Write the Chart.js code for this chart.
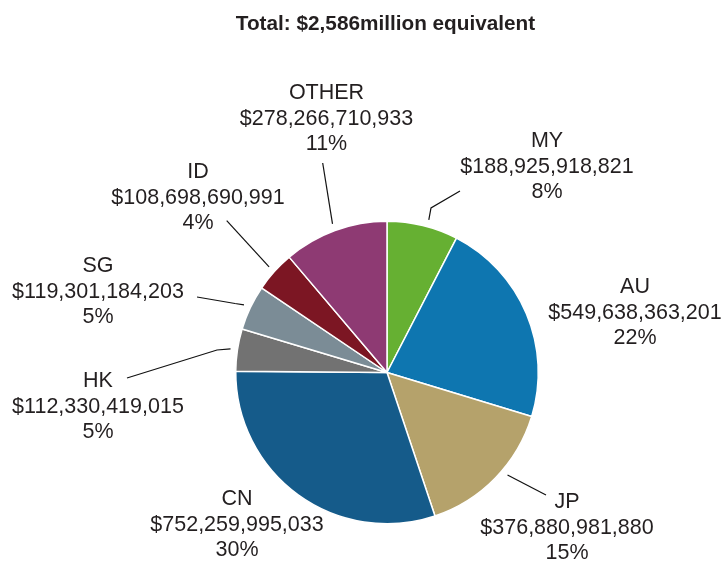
<!DOCTYPE html>
<html>
<head>
<meta charset="utf-8">
<script src="https://cdn.jsdelivr.net/npm/chart.js@4/dist/chart.umd.min.js"></script>
<style>
  html, body { margin: 0; padding: 0; background: #ffffff; }
  #wrap { width: 721px; height: 566px; }
</style>
</head>
<body>
<div id="wrap"><canvas id="c" width="721" height="566"></canvas></div>
<script>
// ---- data ----
const categories = ["MY", "AU", "JP", "CN", "HK", "SG", "ID", "OTHER"];
const values = [188925918821, 549638363201, 376880981880, 752259995033, 112330419015, 119301184203, 108698690991, 278266710933];
const titleText = "Total: $2,586million equivalent";

// ---- styles ----
const colors = ["#66b032", "#0e76b0", "#b5a26b", "#155b8a", "#727272", "#7b8c96", "#7c1623", "#8e3a73"];
const textColor = "#231f20";
const labelFont = "21.5px 'Liberation Sans', Arial, sans-serif";
const titleFont = "bold 20.75px 'Liberation Sans', Arial, sans-serif";
const lineGap = 25.5;
// label layout: text anchor (dx, dy of first baseline, relative to pie center), leader start (fraction of slice) and bends
const labelLayout = [
  { tx: 160, ty: -225.5, frac: 0.56, bends: [[44, -164.5], [73, -181.5]] },
  { tx: 248, ty: -79.5, frac: 0.5, bends: null },
  { tx: 180, ty: 135.5, frac: 0.43, bends: [[159, 122.5]] },
  { tx: -150, ty: 132.5, frac: 0.5, bends: null },
  { tx: -289, ty: 14.5, frac: 0.5, bends: [[-170, -22.5], [-260, 5.5]] },
  { tx: -289, ty: -100.5, frac: 0.5, bends: [[-152, -69], [-190, -75.5]] },
  { tx: -189, ty: -194.5, frac: 0.5, bends: [[-160.3, -151.8]] },
  { tx: -60.5, ty: -273.5, frac: 0.5, bends: [[-64.3, -209.5]] }
];

const total = values.reduce((a, b) => a + b, 0);

const labelPlugin = {
  id: 'pieLabels',
  afterDraw(chart) {
    const ctx = chart.ctx;
    const meta = chart.getDatasetMeta(0);
    ctx.save();
    // title
    ctx.font = titleFont;
    ctx.fillStyle = textColor;
    ctx.textAlign = 'center';
    ctx.textBaseline = 'alphabetic';
    ctx.fillText(titleText, 385.5, 30);

    ctx.font = labelFont;
    meta.data.forEach((arc, i) => {
      const cx = arc.x, cy = arc.y;
      const L = labelLayout[i];
      const a = arc.startAngle + (arc.endAngle - arc.startAngle) * L.frac;
      const r = arc.outerRadius + 7;
      if (L.bends) {
        ctx.beginPath();
        ctx.strokeStyle = '#111111';
        ctx.lineWidth = 1.2;
        ctx.moveTo(cx + r * Math.cos(a), cy + r * Math.sin(a));
        L.bends.forEach(p => ctx.lineTo(cx + p[0], cy + p[1]));
        ctx.stroke();
      }
      const pct = Math.round(values[i] / total * 100) + '%';
      const lines = [categories[i], '$' + values[i].toLocaleString('en-US'), pct];
      ctx.fillStyle = textColor;
      ctx.textAlign = 'center';
      lines.forEach((t, k) => ctx.fillText(t, cx + L.tx, cy + L.ty + k * lineGap));
    });
    ctx.restore();
  }
};

new Chart(document.getElementById('c'), {
  type: 'pie',
  data: {
    labels: categories,
    datasets: [{
      data: values,
      backgroundColor: colors,
      borderColor: '#ffffff',
      borderWidth: 1.5,
      hoverOffset: 0,
      offset: 0
    }]
  },
  options: {
    responsive: false,
    animation: false,
    layout: { padding: { left: 235, right: 182, top: 220.5, bottom: 41.5 } },
    plugins: {
      legend: { display: false },
      title: { display: false },
      tooltip: { enabled: false }
    }
  },
  plugins: [labelPlugin]
});
</script>
</body>
</html>
